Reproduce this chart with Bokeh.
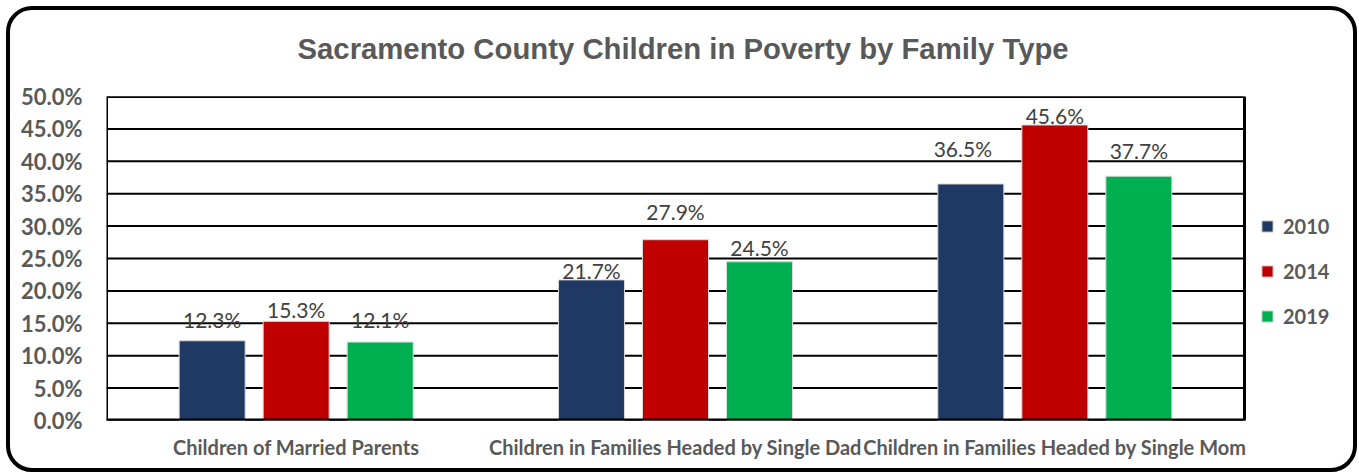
from bokeh.plotting import figure
from bokeh.models import (ColumnDataSource, Range1d, FixedTicker, PrintfTickFormatter,
                          Legend, LegendItem, Title, InlineStyleSheet)
from bokeh.core.properties import value
from bokeh.embed import file_html
from bokeh.resources import INLINE

categories = ["Children of Married Parents",
              "Children in Families Headed by Single Dad",
              "Children in Families Headed by Single Mom"]
years = ["2010", "2014", "2019"]
v2010 = [12.3, 21.7, 36.5]
v2014 = [15.3, 27.9, 45.6]
v2019 = [12.1, 24.5, 37.7]
y_ticks = [0, 5, 10, 15, 20, 25, 30, 35, 40, 45, 50]

# styling (pixel nudges of the data labels, as placed in the original)
colors = ["#203864", "#C00000", "#00B050"]
label_dy = [[21, 9, 35], [12, 28, 10], [23, 14, 26]]
label_dx = [[0, 0, -8], [0, 0, 0], [0, 0, 0]]
offsets = [-0.2215, 0.0, 0.2215]
bar_w = 0.174

GREY = "#595959"
LBL = "#404040"

W, H = 1359, 476
LEFT, RIGHT, TOP, BOTTOM = 106, 9, 96, 56
CAT_PX = 1138 / len(categories)           # pixel width of one category slot
n = len(categories)
x_end = (W - LEFT - RIGHT) / CAT_PX        # frame extends past the plot box to host the legend

p = figure(x_range=Range1d(0, x_end), y_range=Range1d(0, y_ticks[-1]),
           width=W, height=H, output_backend="svg", toolbar_location=None,
           min_border_left=LEFT, min_border_right=RIGHT, min_border_top=TOP, min_border_bottom=BOTTOM)
p.stylesheets = [InlineStyleSheet(css=(
    ":host { position: relative; }"
    ":host::after { content: ''; position: absolute; left: 6px; top: 6px; right: 2px; bottom: 4px;"
    " border: 4px solid black; border-radius: 26px; pointer-events: none; box-sizing: border-box; }"))]
p.background_fill_color = None
p.border_fill_color = None
p.outline_line_color = None

p.add_layout(Title(text="Sacramento County Children in Poverty by Family Type",
                   align="left", offset=191, vertical_align="top",
                   text_font="Liberation Sans", text_font_style="bold",
                   text_font_size="29.3px", text_color=GREY, standoff=60), "above")

# gridlines and plot box limited to the category area
p.segment(x0=[0] * len(y_ticks), x1=[n] * len(y_ticks), y0=y_ticks, y1=y_ticks,
          line_color="black", line_width=2)
p.quad(left=[0], right=[n], bottom=[0], top=[y_ticks[-1]], fill_color=None,
       line_color="black", line_width=3)

series = [v2010, v2014, v2019]
items = []
for i, (yr, vals) in enumerate(zip(years, series)):
    xs = [k + 0.5 + offsets[i] for k in range(n)]
    src = ColumnDataSource(dict(x=xs, val=vals,
                                txt=[f"{v:.1f}%" for v in vals],
                                dy=[-d for d in label_dy[i]],
                                dx=label_dx[i]))
    r = p.vbar(x="x", top="val", width=bar_w, source=src,
               fill_color=colors[i], line_color="#d9d9d9", line_width=1)
    p.text(x="x", y="val", text="txt", source=src,
           x_offset="dx", y_offset="dy", text_align="center", text_baseline="middle",
           text_font=value("Lato"), text_font_size="21px", text_color=LBL)
    items.append(LegendItem(label=yr, renderers=[r]))

p.segment(x0=[0], x1=[n], y0=[0], y1=[0], line_color="black", line_width=4)

legend = Legend(items=items, location=(1154, 92), orientation="vertical",
                glyph_width=14, glyph_height=14, label_height=20, spacing=21,
                label_standoff=9, padding=0, margin=0, border_line_color=None,
                background_fill_alpha=0, label_text_font="Lato",
                label_text_font_style="bold", label_text_font_size="20px",
                label_text_color=GREY)
p.add_layout(legend, "center")

p.xgrid.grid_line_color = None
p.ygrid.grid_line_color = None
p.yaxis.ticker = FixedTicker(ticks=y_ticks)
p.yaxis.formatter = PrintfTickFormatter(format="%.1f%%")
p.yaxis.axis_line_color = None
p.yaxis.major_tick_line_color = None
p.yaxis.minor_tick_line_color = None
p.yaxis.major_label_standoff = 18
p.yaxis.major_label_text_font = "Lato"
p.yaxis.major_label_text_font_style = "bold"
p.yaxis.major_label_text_font_size = "22px"
p.yaxis.major_label_text_color = GREY

p.xaxis.ticker = FixedTicker(ticks=[k + 0.5 for k in range(n)])
p.xaxis.major_label_overrides = {k + 0.5: c for k, c in enumerate(categories)}
p.xaxis.axis_line_color = None
p.xaxis.major_tick_line_color = None
p.xaxis.minor_tick_line_color = None
p.xaxis.major_label_standoff = 8
p.xaxis.major_label_text_font = "Lato"
p.xaxis.major_label_text_font_style = "bold"
p.xaxis.major_label_text_font_size = "20px"
p.xaxis.major_label_text_color = GREY

open("out.html", "w").write(file_html(p, INLINE))
